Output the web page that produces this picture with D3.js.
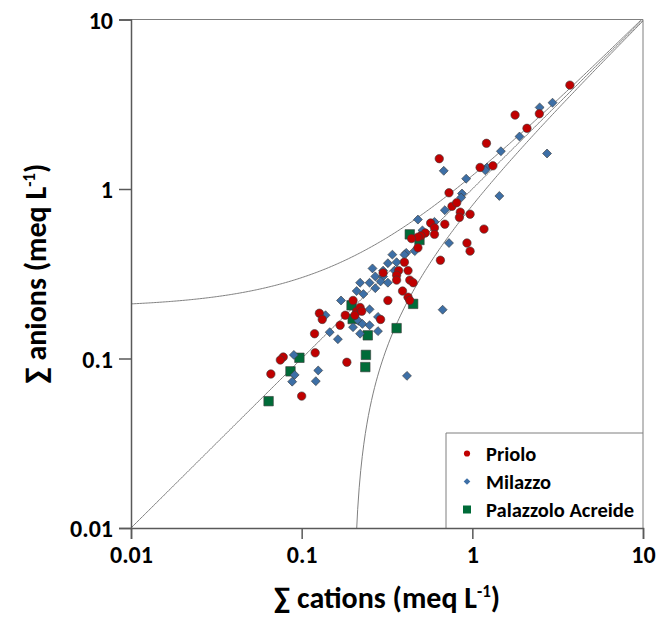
<!DOCTYPE html>
<html>
<head>
<meta charset="utf-8">
<script src="https://cdn.jsdelivr.net/npm/d3@7"></script>
<style>
    body { margin: 0; background: #fff; }
    text { font-family: Carlito, Lato, sans-serif; font-weight: bold; fill: #000; }
</style>
</head>
<body>
<div id="chart"></div>
<script>
// Sum of cations vs sum of anions (meq/L)
const prioloCations = [3.73, 1.78, 2.47, 2.09, 1.21, 0.64, 1.11, 1.32, 0.73, 0.76, 0.81, 0.85, 0.84, 0.97,
    0.69, 1.17, 0.57, 0.60, 0.60, 0.53, 0.50, 0.48, 0.44, 0.48, 0.93, 0.97, 0.65, 0.40, 0.37, 0.42,
    0.30, 0.36, 0.43, 0.45, 0.36, 0.39, 0.32, 0.42, 0.43, 0.20, 0.21, 0.22, 0.205, 0.225, 0.127, 0.132,
    0.18, 0.168, 0.29, 0.119, 0.12, 0.078, 0.075, 0.066, 0.184, 0.10];
const prioloAnions = [4.10, 2.73, 2.78, 2.28, 1.86, 1.51, 1.34, 1.37, 0.95, 0.79, 0.83, 0.73, 0.68, 0.71,
    0.62, 0.58, 0.63, 0.59, 0.54, 0.55, 0.53, 0.52, 0.51, 0.45, 0.48, 0.43, 0.38, 0.37, 0.33, 0.33,
    0.32, 0.31, 0.29, 0.28, 0.29, 0.25, 0.22, 0.23, 0.22, 0.22, 0.19, 0.20, 0.18, 0.19, 0.185, 0.17,
    0.18, 0.157, 0.17, 0.14, 0.108, 0.102, 0.098, 0.081, 0.095, 0.060];

const milazzoCations = [2.95, 2.48, 1.89, 1.47, 2.74, 1.22, 1.19, 0.68, 0.92, 0.87, 0.86, 1.44, 0.69, 0.48,
    0.60, 0.51, 0.73, 0.46, 0.41, 0.34, 0.40, 0.36, 0.32, 0.26, 0.27, 0.30, 0.30, 0.35, 0.22, 0.25,
    0.29, 0.27, 0.32, 0.21, 0.23, 0.17, 0.25, 0.215, 0.20, 0.227, 0.25, 0.28, 0.28, 0.22, 0.67, 0.163,
    0.146, 0.138, 0.090, 0.125, 0.091, 0.088, 0.121, 0.414];
const milazzoAnions = [3.23, 3.03, 2.04, 1.67, 1.62, 1.34, 1.29, 1.28, 1.15, 0.94, 0.89, 0.91, 0.75, 0.66,
    0.64, 0.57, 0.48, 0.43, 0.42, 0.41, 0.41, 0.37, 0.365, 0.34, 0.305, 0.305, 0.33, 0.33, 0.28, 0.28,
    0.285, 0.26, 0.28, 0.25, 0.24, 0.22, 0.195, 0.167, 0.153, 0.16, 0.157, 0.176, 0.145, 0.14, 0.194, 0.13,
    0.143, 0.18, 0.105, 0.085, 0.080, 0.073, 0.0735, 0.079];

const palazzoloCations = [0.43, 0.49, 0.45, 0.196, 0.199, 0.36, 0.244, 0.097, 0.086, 0.064, 0.238, 0.236];
const palazzoloAnions = [0.54, 0.50, 0.21, 0.206, 0.171, 0.151, 0.137, 0.101, 0.084, 0.056, 0.105, 0.089];

const seriesNames = ["Priolo", "Milazzo", "Palazzolo Acreide"];
const tickValues = [0.01, 0.1, 1, 10];
const tickLabels = ["0.01", "0.1", "1", "10"];
const balanceOffset = 0.2; // +/- 0.2 meq/L around the 1:1 line

const width = 659, height = 632;
const margin = {top: 19.5, right: 16, bottom: 104, left: 131};

const svg = d3.select("#chart").append("svg")
    .attr("width", width)
    .attr("height", height);

const xScale = d3.scaleLog()
    .domain([0.01, 10])
    .range([margin.left, width - margin.right]);

const yScale = d3.scaleLog()
    .domain([0.01, 10])
    .range([height - margin.bottom, margin.top]);

const x0 = xScale.range()[0], x1 = xScale.range()[1];
const y0 = yScale.range()[0], y1 = yScale.range()[1];

svg.append("clipPath").attr("id", "plotClip")
    .append("rect")
    .attr("x", x0).attr("y", y1)
    .attr("width", x1 - x0).attr("height", y0 - y1);

// frame (top and right)
svg.append("path")
    .attr("d", `M${x0},${y1}H${x1}V${y0}`)
    .attr("fill", "none")
    .attr("stroke", "#7f7f7f")
    .attr("stroke-width", 1);

// 1:1 line and the +/- offset curves
let samples = d3.range(0, 401).map(i => Math.pow(10, -2.4 + i * 0.009));
let line = d3.line()
    .x(d => xScale(d[0]))
    .y(d => yScale(d[1]));

let curves = [
    samples.map(c => [c, c]),
    samples.map(c => [c, c + balanceOffset]),
    samples.filter(c => c - balanceOffset > 0.005).map(c => [c, c - balanceOffset])
];

svg.append("g")
    .attr("clip-path", "url(#plotClip)")
    .selectAll("path")
    .data(curves)
    .join("path")
    .attr("d", line)
    .attr("fill", "none")
    .attr("stroke", "#808080")
    .attr("stroke-width", 1);

// legend box
let legend = svg.append("g").attr("class", "legend");
legend.append("path")
    .attr("d", `M446,${y0}V433H${x1}`)
    .attr("fill", "none")
    .attr("stroke", "#7f7f7f")
    .attr("stroke-width", 1);

// axes
let xAxis = d3.axisBottom(xScale)
    .tickValues(tickValues)
    .tickFormat((d, i) => tickLabels[i])
    .tickSizeOuter(0)
    .tickSize(11)
    .tickPadding(7);

let yAxis = d3.axisLeft(yScale)
    .tickValues(tickValues)
    .tickFormat((d, i) => tickLabels[i])
    .tickSizeOuter(0)
    .tickSize(12)
    .tickPadding(6);

let gx = svg.append("g")
    .attr("class", "x-axis")
    .attr("transform", `translate(0, ${y0})`)
    .call(xAxis);

let gy = svg.append("g")
    .attr("class", "y-axis")
    .attr("transform", `translate(${x0}, 0)`)
    .call(yAxis);

[gx, gy].forEach(g => {
    g.select(".domain").attr("stroke", "#595959").attr("stroke-width", 1.5);
    g.selectAll(".tick line").attr("stroke", "#595959").attr("stroke-width", 1.5);
    g.selectAll(".tick text")
        .style("font-family", "Carlito, Lato, sans-serif")
        .style("font-weight", "bold")
        .style("font-size", "24px")
        .attr("fill", "#000");
});
gy.selectAll(".tick text").attr("dy", "0.36em");

// markers (diamond = square turned 45 degrees)
const marker = {
    "Priolo": d3.symbol().type(d3.symbolCircle).size(56),
    "Milazzo": d3.symbol().type(d3.symbolSquare).size(40),
    "Palazzolo Acreide": d3.symbol().type(d3.symbolSquare).size(90)
};
const turn = {"Priolo": 0, "Milazzo": 45, "Palazzolo Acreide": 0};
const fill = {"Priolo": "#c00000", "Milazzo": "#3d6fa6", "Palazzolo Acreide": "#006b38"};

let seriesData = {
    "Priolo": prioloCations.map((c, i) => [c, prioloAnions[i]]),
    "Milazzo": milazzoCations.map((c, i) => [c, milazzoAnions[i]]),
    "Palazzolo Acreide": palazzoloCations.map((c, i) => [c, palazzoloAnions[i]])
};

// draw bottom to top: Palazzolo, Milazzo, Priolo
["Palazzolo Acreide", "Milazzo", "Priolo"].forEach(name => {
    svg.append("g")
        .selectAll("path")
        .data(seriesData[name])
        .join("path")
        .attr("transform", d => `translate(${xScale(d[0])}, ${yScale(d[1])}) rotate(${turn[name]})`)
        .attr("d", marker[name])
        .attr("fill", fill[name])
        .attr("stroke", "#3a3a3a")
        .attr("stroke-width", 0.6);
});

// legend entries
const legendSymbol = {
    "Priolo": d3.symbol().type(d3.symbolCircle).size(30),
    "Milazzo": d3.symbol().type(d3.symbolSquare).size(22),
    "Palazzolo Acreide": d3.symbol().type(d3.symbolSquare).size(64)
};
seriesNames.forEach((name, i) => {
    let cy = 453.5 + i * 28;
    legend.append("path")
        .attr("transform", `translate(467, ${cy}) rotate(${turn[name]})`)
        .attr("d", legendSymbol[name])
        .attr("fill", fill[name]);
    legend.append("text")
        .attr("x", 486)
        .attr("y", cy)
        .attr("dy", "0.35em")
        .style("font-size", "20.5px")
        .text(name);
});

// axis titles
let xTitle = svg.append("text")
    .attr("x", (x0 + x1) / 2)
    .attr("y", 608)
    .attr("text-anchor", "middle")
    .style("font-size", "30px");
xTitle.append("tspan").text("\u2211 cations (meq L");
xTitle.append("tspan").attr("dy", -11).style("font-size", "17px").text("-1");
xTitle.append("tspan").attr("dy", 11).text(")");

let yTitle = svg.append("text")
    .attr("transform", `translate(46, ${(y0 + y1) / 2}) rotate(-90)`)
    .attr("text-anchor", "middle")
    .style("font-size", "30px");
yTitle.append("tspan").text("\u2211 anions (meq L");
yTitle.append("tspan").attr("dy", -11).style("font-size", "17px").text("-1");
yTitle.append("tspan").attr("dy", 11).text(")");
</script>
</body>
</html>
